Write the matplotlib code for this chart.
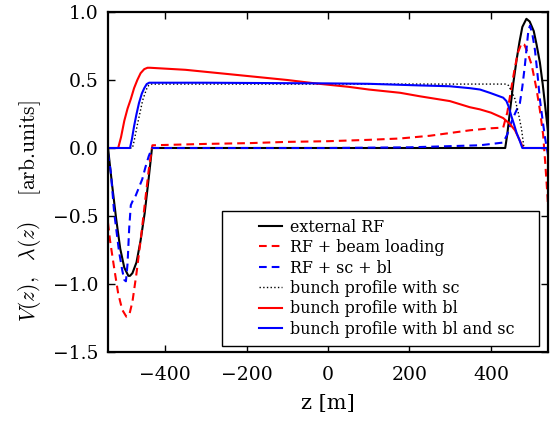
import matplotlib
matplotlib.use("Agg")
import matplotlib.pyplot as plt
from matplotlib.legend_handler import HandlerLine2D

plt.rcParams['font.family'] = ['DejaVu Serif']
plt.rcParams['mathtext.fontset'] = 'cm'

# ---- data ----
z_rf = [-540, -530, -520, -510, -500, -490, -486, -480, -470, -460, -450, -440, -432,
        0, 435, 440, 447, 455, 463, 470, 477, 487, 495, 505, 512, 520, 527, 533, 540]
v_rf = [0.0, -0.27, -0.52, -0.74, -0.88, -0.94, -0.94, -0.92, -0.84, -0.68, -0.48, -0.22, 0.0,
        0.0, 0.0, 0.10, 0.28, 0.48, 0.65, 0.78, 0.89, 0.95, 0.93, 0.86, 0.76, 0.63, 0.47, 0.31, 0.12]

z_bl = [-540, -535, -525, -515, -505, -495, -488, -480, -470, -460, -450, -440, -432, -431,
        -300, -191, -100, 0, 100, 177, 250, 299, 348, 400, 430,
        440, 450, 458, 466, 475, 482, 490, 500, 512, 520, 528, 533, 538, 540]
v_bl = [-0.55, -0.68, -0.88, -1.07, -1.19, -1.24, -1.23, -1.13, -0.92, -0.68, -0.42, -0.16, 0.0, 0.02,
        0.03, 0.036, 0.045, 0.05, 0.06, 0.07, 0.09, 0.11, 0.13, 0.145, 0.15,
        0.26, 0.44, 0.58, 0.70, 0.77, 0.76, 0.70, 0.61, 0.43, 0.28, 0.10, -0.10, -0.32, -0.42]

z_scbl = [-540, -533, -525, -513, -505, -500, -496, -492, -488, -484, -478, -472, -464, -456,
          -448, -440, -432, 0, 200, 373, 430, 440, 450, 460, 471, 477, 483, 488, 492, 496,
          502, 508, 514, 520, 527, 533, 540]
v_scbl = [-0.04, -0.18, -0.47, -0.76, -0.90, -0.97, -0.98, -0.85, -0.59, -0.42, -0.38, -0.35, -0.29, -0.23,
          -0.14, -0.06, 0.0, 0.0, 0.005, 0.02, 0.04, 0.10, 0.19, 0.26, 0.33, 0.45, 0.60, 0.75, 0.87, 0.90,
          0.83, 0.72, 0.55, 0.36, 0.20, 0.07, -0.05]

z_prof_sc = [-540, -480, -476, -472, -468, -460, -455, -447, -443, -440, -435,
             438, 443, 450, 459, 467, 475, 481, 540]
v_prof_sc = [0.0, 0.0, 0.05, 0.11, 0.17, 0.28, 0.35, 0.42, 0.45, 0.46, 0.47,
             0.47, 0.46, 0.42, 0.36, 0.26, 0.14, 0.0, 0.0]

z_prof_bl = [-540, -515, -508, -500, -492, -484, -476, -468, -460, -451, -443, -437,
             -350, -233, -100, -28, 50, 100, 177, 226, 299, 348, 373, 400, 430,
             447, 459, 467, 474, 479, 540]
v_prof_bl = [0.0, 0.0, 0.08, 0.20, 0.29, 0.36, 0.44, 0.50, 0.55, 0.58, 0.59, 0.59,
             0.575, 0.54, 0.50, 0.474, 0.45, 0.43, 0.406, 0.38, 0.345, 0.30, 0.284, 0.26, 0.22,
             0.175, 0.13, 0.08, 0.035, 0.0, 0.0]

z_prof_blsc = [-540, -486, -481, -476, -470, -464, -457, -451, -445, -439,
               -300, 0, 100, 226, 299, 348, 373, 398, 430, 438, 444, 450, 457, 463, 471, 477, 540]
v_prof_blsc = [0.0, 0.0, 0.07, 0.16, 0.25, 0.33, 0.40, 0.44, 0.47, 0.48,
               0.48, 0.475, 0.472, 0.46, 0.454, 0.44, 0.43, 0.405, 0.37, 0.345, 0.30, 0.235, 0.17, 0.11, 0.05, 0.0, 0.0]

labels = ["external RF", "RF + beam loading", "RF + sc + bl",
          "bunch profile with sc", "bunch profile with bl", "bunch profile with bl and sc"]
xticks = [-400, -200, 0, 200, 400]
yticks = [-1.5, -1.0, -0.5, 0.0, 0.5, 1.0]


class ShiftedHandler(HandlerLine2D):
    def create_artists(self, legend, orig_handle, xdescent, ydescent, width, height, fontsize, trans):
        new_w = width * 0.45
        xd = xdescent - (width - new_w)
        return super().create_artists(legend, orig_handle, xd, ydescent, new_w, height, fontsize, trans)


fig = plt.figure(figsize=(5.54, 4.22), dpi=100)
ax = fig.add_axes([108 / 554, 1 - 352 / 422, 440 / 554, 340 / 422])

lw = 1.5
h1, = ax.plot(z_rf, v_rf, color='black', lw=lw, label=labels[0])
h2, = ax.plot(z_bl, v_bl, color='red', lw=lw, ls='--', dashes=(3.7, 2.4), label=labels[1])
h3, = ax.plot(z_scbl, v_scbl, color='blue', lw=lw, ls='--', dashes=(3.7, 2.4), label=labels[2])
h4, = ax.plot(z_prof_sc, v_prof_sc, color='black', lw=1.0, ls=':', label=labels[3])
h5, = ax.plot(z_prof_bl, v_prof_bl, color='red', lw=lw, label=labels[4])
h6, = ax.plot(z_prof_blsc, v_prof_blsc, color='blue', lw=lw, label=labels[5])

ax.set_xlim(-540, 540)
ax.set_ylim(-1.5, 1.0)
ax.set_xticks(xticks)
ax.set_yticks(yticks)
ax.tick_params(direction='in', top=True, right=True, length=5, width=1, labelsize=13.5)
ax.tick_params(axis='x', pad=10)
ax.tick_params(axis='y', pad=7)
for s in ax.spines.values():
    s.set_linewidth(1.6)

ax.set_xlabel("z [m]", fontsize=15, labelpad=7)
ax.set_ylabel(r"$V(z),\ \ \lambda(z)\quad\ \mathrm{[arb.\!units]}$", fontsize=15.5)
ax.yaxis.set_label_coords(-0.148, 0.415)

leg = ax.legend(handles=[h1, h2, h3, h4, h5, h6], loc='lower left',
                bbox_to_anchor=(0.259, 0.018, 0.721, 0.4), mode='expand',
                borderaxespad=0, fontsize=11.4, handlelength=3.3, handletextpad=0.5,
                labelspacing=0.22, borderpad=0.5, fancybox=False, framealpha=1,
                handler_map={matplotlib.lines.Line2D: ShiftedHandler()})
leg.get_frame().set_edgecolor('black')
leg.get_frame().set_linewidth(1.0)

fig.savefig("out.png", dpi=100)
